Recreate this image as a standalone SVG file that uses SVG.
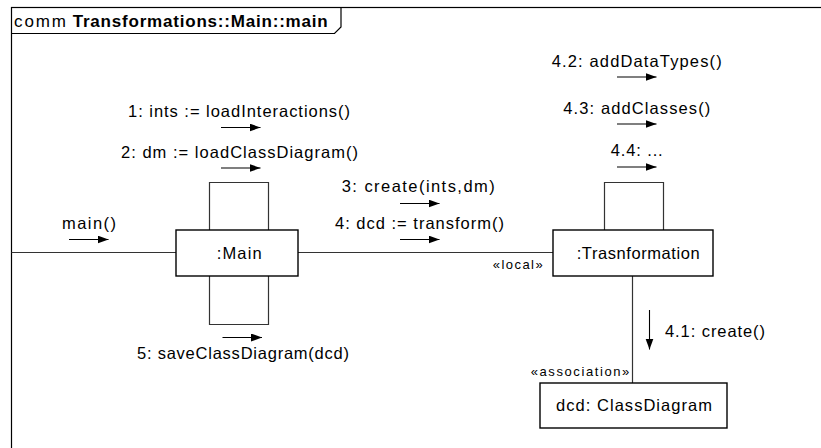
<svg xmlns="http://www.w3.org/2000/svg" width="821" height="448" viewBox="0 0 821 448">
  <style>
    text { font-family: "Liberation Sans", Arial, sans-serif; font-size: 16.5px; fill: #000; }
    .title { font-size: 17px; }
    .stereo { font-size: 13px; }
    .bold { font-weight: bold; }
    .frame { fill: none; stroke: #000; stroke-width: 1.2; }
    .box { fill: #fff; stroke: #000; stroke-width: 1.4; }
    .link { fill: none; stroke: #333; stroke-width: 1.2; }
    .msg { fill: none; stroke: #000; stroke-width: 1.1; marker-end: url(#arrow); }
  </style>
  <defs>
    <marker id="arrow" markerUnits="userSpaceOnUse" markerWidth="12" markerHeight="9" refX="11" refY="4" orient="auto">
      <path d="M0,0 L11,4 L0,8 z" fill="#000"/>
    </marker>
  </defs>

  <rect width="821" height="448" fill="#fff"/>

  <!-- communication diagram frame with name tab -->
  <g id="frame">
    <rect class="frame" x="11.5" y="7.5" width="900" height="500"/>
    <path class="frame" d="M11.5,33.5 H334.5 L341,27 V7.5"/>
    <text class="title" x="14" y="26.5" textLength="52" lengthAdjust="spacing">comm</text>
    <text class="title bold" x="72.7" y="26.5" textLength="255" lengthAdjust="spacing">Transformations::Main::main</text>
  </g>

  <!-- links and self-links -->
  <g id="connectors">
    <path class="link" d="M11.5,252.5 H176"/>
    <path class="link" d="M298,252.5 H553"/>
    <path class="link" d="M632.5,276 V383"/>
    <path class="link" d="M209.5,230 V182.5 H268.5 V230"/>
    <path class="link" d="M209.5,276 V324.5 H268.5 V276"/>
    <path class="link" d="M604.5,230 V182.5 H663.5 V230"/>
    <text class="stereo" x="492.7" y="268.5" textLength="50" lengthAdjust="spacing">«local»</text>
    <text class="stereo" x="530.7" y="375.5" textLength="98.6" lengthAdjust="spacing">«association»</text>
  </g>

  <!-- messages -->
  <g id="messages">
    <text x="62" y="228.5" textLength="54" lengthAdjust="spacing">main()</text>
    <line class="msg" x1="69" y1="239.5" x2="108.5" y2="239.5"/>

    <text x="128" y="117" textLength="222" lengthAdjust="spacing">1: ints := loadInteractions()</text>
    <line class="msg" x1="221" y1="127.5" x2="260.5" y2="127.5"/>

    <text x="121" y="157.5" textLength="237" lengthAdjust="spacing">2: dm := loadClassDiagram()</text>
    <line class="msg" x1="221" y1="168" x2="260.5" y2="168"/>

    <text x="137" y="359" textLength="212" lengthAdjust="spacing">5: saveClassDiagram(dcd)</text>
    <line class="msg" x1="222.5" y1="337.5" x2="262" y2="337.5"/>

    <text x="341.7" y="192" textLength="153" lengthAdjust="spacing">3: create(ints,dm)</text>
    <line class="msg" x1="400" y1="203.5" x2="439.5" y2="203.5"/>

    <text x="335" y="228.5" textLength="169" lengthAdjust="spacing">4: dcd := transform()</text>
    <line class="msg" x1="400" y1="239.5" x2="439.5" y2="239.5"/>

    <text x="551.7" y="66.5" textLength="170" lengthAdjust="spacing">4.2: addDataTypes()</text>
    <line class="msg" x1="617" y1="77" x2="656.5" y2="77"/>

    <text x="563.3" y="113.5" textLength="147" lengthAdjust="spacing">4.3: addClasses()</text>
    <line class="msg" x1="617" y1="124" x2="656.5" y2="124"/>

    <text x="610.7" y="156" textLength="52" lengthAdjust="spacing">4.4: ...</text>
    <line class="msg" x1="617" y1="167" x2="656.5" y2="167"/>

    <line class="msg" x1="649.5" y1="310" x2="649.5" y2="349.5"/>
    <text x="665" y="337" textLength="100" lengthAdjust="spacing">4.1: create()</text>
  </g>

  <!-- lifeline objects -->
  <g id="node-main">
    <rect class="box" x="176" y="230" width="122" height="46"/>
    <text x="216.7" y="258.5" textLength="45" lengthAdjust="spacing">:Main</text>
  </g>
  <g id="node-transformation">
    <rect class="box" x="553" y="230" width="160" height="46"/>
    <text x="576.7" y="258.5" textLength="123" lengthAdjust="spacing">:Trasnformation</text>
  </g>
  <g id="node-classdiagram">
    <rect class="box" x="540" y="383" width="187" height="45"/>
    <text x="556" y="410.5" textLength="156" lengthAdjust="spacing">dcd: ClassDiagram</text>
  </g>
</svg>
